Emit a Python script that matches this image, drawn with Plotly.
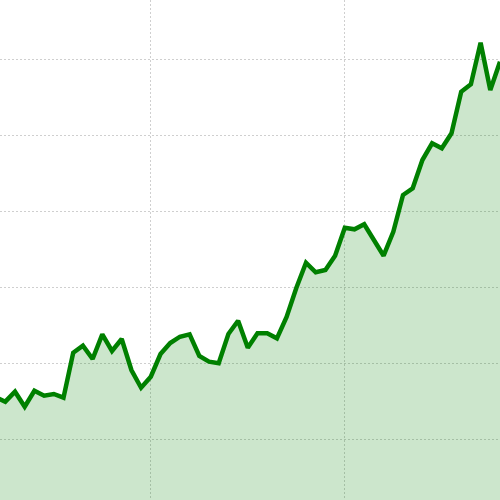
import plotly.graph_objects as go

x_index = list(range(53))
values = [31.18, 29.95, 32.58, 28.63, 32.84, 31.53, 31.97, 31.00, 42.84, 44.68,
          41.18, 47.68, 43.29, 46.45, 38.29, 33.63, 36.53, 42.50, 45.39, 47.05,
          47.68, 41.97, 40.47, 40.05, 47.76, 51.26, 44.16, 47.95, 47.95, 46.63,
          52.24, 59.87, 66.53, 64.00, 64.61, 68.37, 75.74, 75.32, 76.63, 72.76,
          68.37, 74.68, 84.34, 86.11, 93.55, 97.95, 96.63, 100.58, 111.53, 113.47,
          124.42, 111.97, 119.42]

fig = go.Figure()
fig.add_trace(go.Scatter(
    x=x_index, y=values, mode="lines",
    line=dict(color="#008000", width=4.5),
    fill="tozeroy", fillcolor="rgba(0,128,0,0.2)",
    hoverinfo="skip",
))

grid = dict(showgrid=True, gridcolor="#cfcfcf", griddash="2px,2px", gridwidth=1,
            showticklabels=False, zeroline=False, showline=False, ticks="")

fig.update_layout(
    width=500, height=500,
    margin=dict(l=0, r=0, t=0, b=0),
    paper_bgcolor="white", plot_bgcolor="white",
    showlegend=False,
    xaxis=dict(range=[0.454, 52], tick0=16, dtick=20, **grid),
    yaxis=dict(range=[4.08, 135.66], tick0=0, dtick=20, **grid),
)

fig.write_html("out.html", config={"displayModeBar": False},
               post_script="document.body.style.margin='0';document.body.style.padding='0';")
